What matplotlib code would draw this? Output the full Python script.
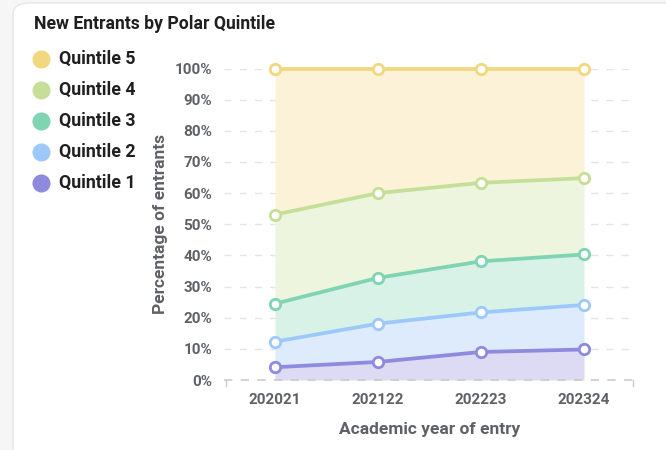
import matplotlib
matplotlib.use("Agg")
import matplotlib.pyplot as plt
from matplotlib.patches import FancyBboxPatch
from matplotlib.lines import Line2D
import numpy as np

plt.rcParams['font.family'] = ['Roboto', 'DejaVu Sans']

years = ['202021', '202122', '202223', '202324']
labels = ['Quintile 1', 'Quintile 2', 'Quintile 3', 'Quintile 4', 'Quintile 5']
# share of entrants per quintile (%)
q1 = [4.1, 5.8, 9.0, 9.8]
q2 = [8.2, 12.3, 12.7, 14.3]
q3 = [12.2, 14.7, 16.4, 16.2]
q4 = [28.6, 27.2, 25.2, 24.5]
q5 = [46.9, 40.0, 36.7, 35.2]
colors = ['#8e8ade', '#9dc9fa', '#7fd4b1', '#c5df98', '#f1d87e']
fills = ['#dcdbf3', '#ddebfd', '#d9f2e8', '#eef5df', '#fbf2d8']

fig = plt.figure(figsize=(6.66, 4.5), dpi=100)
fig.patch.set_facecolor('#f6f6f6')
card = FancyBboxPatch((13 / 666, -0.1), 1.1, (450 - 3) / 450 + 0.1,
                      boxstyle='round,pad=0,rounding_size=0.025',
                      transform=fig.transFigure, facecolor='white',
                      edgecolor='#e6e6e6', linewidth=1, zorder=-5)
fig.patches.append(card)

ax = fig.add_axes([223.5 / 666, 1 - 380 / 450, 412 / 666, 311.5 / 450])
ax.set_zorder(3)
ax.set_facecolor('none')
x = np.arange(len(years))
stack = np.cumsum([q1, q2, q3, q4, q5], axis=0)
base = np.zeros(len(years))
for i, top in enumerate(stack):
    ax.fill_between(x, base, top, color=fills[i], linewidth=0, zorder=1)
    base = top
for i in range(len(stack) - 1, -1, -1):
    ax.plot(x, stack[i], color=colors[i], lw=2.7, marker='o', ms=7.5,
            mfc='white', mec=colors[i], mew=2, zorder=3 + i, clip_on=False)

ax.set_xlim(-0.5, 3.5)
ax.set_ylim(0, 100)
ax.set_yticks(range(0, 101, 10))
ax.set_yticklabels([f'{v}%' for v in range(0, 101, 10)])
ax.set_xticks(x)
ax.set_xticklabels(years)
for v in range(10, 101, 10):
    ax.axhline(v, color='#e4e4e4', lw=1, ls=(0, (5, 6)), zorder=0)
ax.axhline(0, color='#cccccc', lw=1.2, ls=(0, (5, 5)), zorder=2, clip_on=False)
for xe in (-0.48, 3.48):
    ax.plot([xe, xe], [0, -2], color='#cccccc', lw=1, clip_on=False)
for s in ax.spines.values():
    s.set_visible(False)
ax.tick_params(length=0)
ax.tick_params(axis='y', pad=8)
ax.tick_params(axis='x', pad=9)
for t in ax.get_xticklabels() + ax.get_yticklabels():
    t.set_fontsize(11)
    t.set_fontweight('bold')
    t.set_color('#5f6166')
ax.set_ylabel('Percentage of entrants', fontsize=12.5, fontweight='bold',
              color='#5f6166', labelpad=5)
ax.set_xlabel('Academic year of entry', fontsize=12.5, fontweight='bold',
              color='#5f6166', labelpad=11)

fig.text(34 / 666, 1 - 24 / 450, 'New Entrants by Polar Quintile', fontsize=12.7,
         fontweight='bold', color='#1f1f1f', va='center', ha='left')
for k, i in enumerate(range(4, -1, -1)):
    yy = 1 - (59 + 31 * k) / 450
    fig.add_artist(Line2D([41 / 666], [yy], marker='o', ms=12, color=colors[i],
                          mec=colors[i], transform=fig.transFigure))
    fig.text(59 / 666, yy, labels[i], fontsize=12.8, fontweight='bold',
             color='#1f1f1f', va='center', ha='left')

fig.savefig('out.png', dpi=100, facecolor=fig.get_facecolor())
